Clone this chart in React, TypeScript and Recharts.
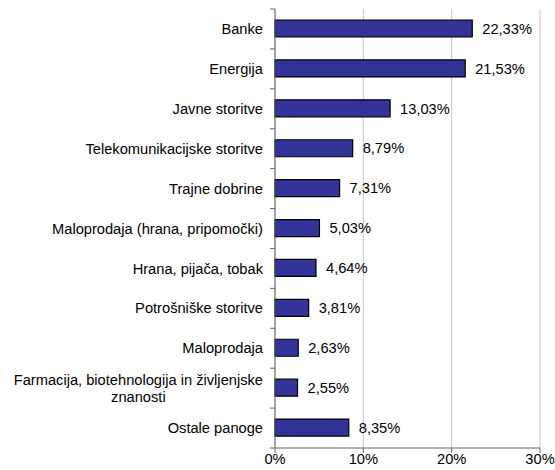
import { Bar, BarChart, CartesianGrid, LabelList, XAxis, YAxis } from "recharts";

const SECTORS = [
  "Banke",
  "Energija",
  "Javne storitve",
  "Telekomunikacijske storitve",
  "Trajne dobrine",
  "Maloprodaja (hrana, pripomočki)",
  "Hrana, pijača, tobak",
  "Potrošniške storitve",
  "Maloprodaja",
  "Farmacija, biotehnologija in življenjske\nznanosti",
  "Ostale panoge",
];
const SHARES = [22.33, 21.53, 13.03, 8.79, 7.31, 5.03, 4.64, 3.81, 2.63, 2.55, 8.35];
const X_TICKS = [0, 10, 20, 30];

const data = SECTORS.map((name, i) => ({ name, v: SHARES[i] }));

const W = 555;
const H = 470;
const TOP = 9;
const RIGHT = 15;
const YAXIS_W = 275;
const XAXIS_H = 22;
const FONT = "'Liberation Sans', Arial, sans-serif";
const FS = 14.67;
const AXIS_COLOR = "#666";

const BAND = (H - TOP - XAXIS_H) / SECTORS.length;

let ctx: CanvasRenderingContext2D | null = null;
function textWidth(s: string) {
  if (!ctx) ctx = document.createElement("canvas").getContext("2d");
  if (!ctx) return s.length * 7;
  ctx.font = `${FS}px ${FONT}`;
  return ctx.measureText(s).width;
}

const fmt = (v: number) => v.toFixed(2).replace(".", ",") + "%";

// category label plus Excel-style tick marks between the bands
function SectorTick(props: any) {
  const { x, y, payload, index } = props;
  const axisX = x + 12;
  const lines = String(payload.value).split("\n");
  const first = textWidth(lines[0]);
  const last = index === SECTORS.length - 1;
  return (
    <g>
      <line x1={axisX - 5} x2={axisX} y1={y - BAND / 2} y2={y - BAND / 2} stroke={AXIS_COLOR} />
      {last && (
        <line x1={axisX - 5} x2={axisX} y1={y + BAND / 2} y2={y + BAND / 2} stroke={AXIS_COLOR} />
      )}
      {lines.length === 1 ? (
        <text x={x} y={y} dy="0.35em" textAnchor="end" fontSize={FS} fontFamily={FONT} fill="#000">
          {lines[0]}
        </text>
      ) : (
        lines.map((ln, i) => (
          <text
            key={i}
            x={x - first / 2}
            y={y + (i - (lines.length - 1) / 2) * 17}
            dy="0.35em"
            textAnchor="middle"
            fontSize={FS}
            fontFamily={FONT}
            fill="#000"
          >
            {ln}
          </text>
        ))
      )}
    </g>
  );
}

export default function App() {
  return (
    <div style={{ position: "absolute", left: 0, top: 0, width: W, height: H, background: "#fff" }}>
      <BarChart
        width={W}
        height={H}
        data={data}
        layout="vertical"
        margin={{ top: TOP, right: RIGHT, left: 0, bottom: 0 }}
        barCategoryGap={11}
      >
        <CartesianGrid horizontal={false} stroke="#c8c8c8" />
        <XAxis
          type="number"
          domain={[0, 30]}
          ticks={X_TICKS}
          tickFormatter={(v) => `${v}%`}
          height={XAXIS_H}
          tickSize={5}
          tickMargin={1}
          stroke={AXIS_COLOR}
          tick={{ fill: "#000", fontSize: FS, fontFamily: FONT }}
          interval={0}
        />
        <YAxis
          type="category"
          dataKey="name"
          width={YAXIS_W}
          tickSize={0}
          tickMargin={12}
          stroke={AXIS_COLOR}
          tick={<SectorTick />}
          interval={0}
        />
        <Bar dataKey="v" fill="#333399" stroke="#000" strokeWidth={1.2} barSize={17} isAnimationActive={false}>
          <LabelList
            dataKey="v"
            position="right"
            offset={10}
            formatter={(v: any) => fmt(Number(v))}
            style={{ fill: "#000", fontSize: FS, fontFamily: FONT }}
          />
        </Bar>
      </BarChart>
    </div>
  );
}
